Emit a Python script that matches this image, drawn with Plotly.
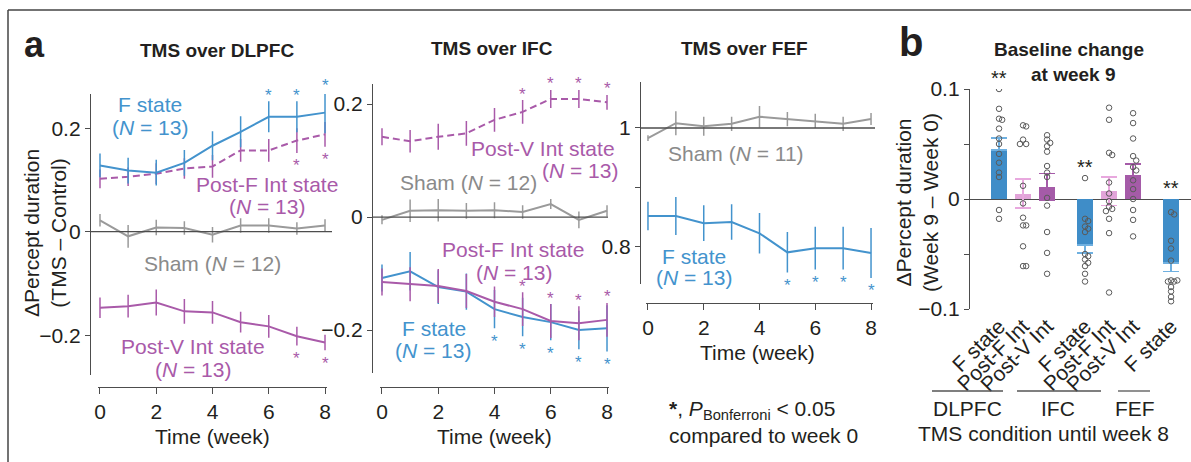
import plotly.graph_objects as go

W, H = 1191, 462
FONT = "Liberation Sans, Arial, Helvetica, sans-serif"
TEXT = "#231f20"
AXC = "#4d4d4d"
BLUE = "#4393cd"
PURPLE = "#a95aa9"
PINK = "#e2a4d9"
GRAY = "#9a9a9a"
GRAYT = "#8a8a8a"

weeks = list(range(9))

# ---------------- Panel a: TMS over DLPFC ----------------
dl_f = [0.128, 0.118, 0.114, 0.133, 0.166, 0.193, 0.222, 0.222, 0.230]
dl_f_sem = [0.023, 0.025, 0.025, 0.025, 0.028, 0.030, 0.030, 0.030, 0.040]
dl_pf = [0.102, 0.106, 0.112, 0.122, 0.126, 0.157, 0.157, 0.176, 0.188]
dl_pf_sem = [0.018, 0.018, 0.020, 0.020, 0.022, 0.022, 0.022, 0.024, 0.024]
dl_sham = [0.022, -0.009, 0.008, 0.007, -0.006, 0.012, 0.012, 0.006, 0.012]
dl_sham_sem = [0.012, 0.022, 0.015, 0.013, 0.015, 0.014, 0.014, 0.012, 0.012]
dl_pv = [-0.147, -0.144, -0.137, -0.154, -0.156, -0.175, -0.183, -0.202, -0.214]
dl_pv_sem = [0.020, 0.022, 0.025, 0.024, 0.022, 0.020, 0.022, 0.018, 0.015]

# ---------------- Panel a: TMS over IFC ----------------
ifc_pv = [0.142, 0.134, 0.142, 0.148, 0.172, 0.186, 0.209, 0.209, 0.203]
ifc_pv_sem = [0.015, 0.020, 0.023, 0.022, 0.021, 0.021, 0.016, 0.016, 0.013]
ifc_sham = [-0.005, 0.011, 0.012, 0.011, 0.012, 0.009, 0.023, -0.005, 0.011]
ifc_sham_sem = [0.008, 0.020, 0.020, 0.014, 0.014, 0.012, 0.009, 0.015, 0.010]
ifc_pf = [-0.115, -0.119, -0.122, -0.131, -0.150, -0.163, -0.184, -0.188, -0.182]
ifc_pf_sem = [0.024, 0.030, 0.030, 0.030, 0.027, 0.030, 0.030, 0.030, 0.030]
ifc_f = [-0.108, -0.096, -0.124, -0.132, -0.163, -0.177, -0.186, -0.200, -0.197]
ifc_f_sem = [0.024, 0.034, 0.030, 0.032, 0.034, 0.034, 0.032, 0.034, 0.041]

# ---------------- Panel a: TMS over FEF ----------------
fef_sham = [0.983, 1.008, 1.003, 1.007, 1.019, 1.015, 1.012, 1.007, 1.015]
fef_sham_sem = [0.005, 0.020, 0.016, 0.012, 0.018, 0.012, 0.012, 0.012, 0.010]
fef_f = [0.852, 0.852, 0.840, 0.842, 0.823, 0.791, 0.798, 0.798, 0.790]
fef_f_sem = [0.024, 0.032, 0.030, 0.030, 0.034, 0.034, 0.036, 0.036, 0.042]

# significant weeks (P_Bonferroni < 0.05 vs week 0)
sig_dl_f = [6, 7, 8]
sig_dl_pf = [7, 8]
sig_dl_pv = [7, 8]
sig_ifc_pv = [5, 6, 7, 8]
sig_ifc_pf = [5, 6, 7, 8]
sig_ifc_f = [4, 5, 6, 7, 8]
sig_fef_f = [5, 6, 7, 8]

# ---------------- Panel b ----------------
b_groups = ["DLPFC", "IFC", "FEF"]
b_conditions = [["F state", "Post-F Int", "Post-V Int"],
                ["F state", "Post-F Int", "Post-V Int"],
                ["F state"]]
b_means = [0.0445, 0.005, 0.011, -0.042, 0.007, 0.022, -0.058]
b_sems = [0.011, 0.013, 0.012, 0.007, 0.013, 0.010, 0.008]
b_points = [
    [0.100, 0.082, 0.073, 0.072, 0.064, 0.055, 0.050, 0.041, 0.033, 0.024, 0.020, -0.010, -0.018],
    [0.067, 0.066, 0.054, 0.050, 0.050, 0.012, -0.004, -0.017, -0.024, -0.024, -0.043, -0.061, -0.061],
    [0.058, 0.054, 0.051, 0.048, 0.043, 0.030, 0.024, 0.020, 0.001, -0.006, -0.030, -0.049, -0.068],
    [0.019, -0.018, -0.020, -0.025, -0.027, -0.030, -0.050, -0.052, -0.055, -0.058, -0.061, -0.068, -0.075],
    [0.083, 0.072, 0.042, 0.040, 0.015, 0.005, -0.002, -0.007, -0.009, -0.011, -0.018, -0.031, -0.085],
    [0.078, 0.069, 0.055, 0.039, 0.035, 0.029, 0.026, 0.017, 0.009, 0.000, -0.010, -0.019, -0.034],
    [-0.012, -0.014, -0.038, -0.045, -0.056, -0.074, -0.075, -0.075, -0.074, -0.080, -0.084, -0.089, -0.093],
]
b_sig = ["**", "", "", "**", "", "", "**"]

# ---------------- helpers ----------------
def fx(x):
    return x / W

def fy(y):
    return 1 - y / H

# panel geometry (pixels) and ranges
P = {
    "1": dict(xd=(98.3, 326.7), xr=(-0.06, 8.06), xpos=387, yd=(94, 375), yr=(-0.277, 0.266), ypos=90),
    "2": dict(xd=(380.3, 608.7), xr=(-0.06, 8.06), xpos=387, yd=(84, 373), yr=(-0.276, 0.2354), ypos=372),
    "3": dict(xd=(646.3, 872.7), xr=(-0.06, 8.06), xpos=303, yd=(82, 284), yr=(0.7378, 1.0773), ypos=640),
    "4": dict(xd=(970, 1191), xr=(-1.208, 7.99), yd=(89, 309), yr=(-0.1, 0.1)),
}

def vy(panel, v):
    g = P[panel]
    t, b = g["yd"]
    lo, hi = g["yr"]
    return fy(b - (v - lo) / (hi - lo) * (b - t))

fig = go.Figure()
annotations = []
shapes = []

def txt(x, y, s, size=21, color=TEXT, xanchor="center", yanchor="middle", angle=0):
    annotations.append(dict(x=fx(x), y=fy(y), xref="paper", yref="paper", text=s,
                            showarrow=False, font=dict(size=size, color=color, family=FONT),
                            xanchor=xanchor, yanchor=yanchor, textangle=angle))

AX = {"1": ("x", "y"), "2": ("x2", "y2"), "3": ("x3", "y3"), "4": ("x4", "y4")}

def series(panel, vals, sems, color, dash="solid", sig=None, above=True):
    xa, ya = AX[panel]
    fig.add_trace(go.Scatter(
        x=weeks, y=vals, xaxis=xa, yaxis=ya, mode="lines",
        line=dict(color=color, width=2, dash=dash),
        error_y=dict(type="data", array=sems, color=color, thickness=1.5, width=0),
        hoverinfo="skip", showlegend=False))
    for w in (sig or []):
        yv = vals[w] + sems[w] if above else vals[w] - sems[w]
        annotations.append(dict(x=w, y=vy(panel, yv), xref=xa, yref="paper", text="*",
                                showarrow=False, font=dict(size=17, color=color, family=FONT),
                                xanchor="center", yanchor="middle",
                                yshift=6 if above else -13))

# DLPFC
series("1", dl_sham, dl_sham_sem, GRAY)
series("1", dl_pv, dl_pv_sem, PURPLE, sig=sig_dl_pv, above=False)
series("1", dl_pf, dl_pf_sem, PURPLE, dash="7px,4px", sig=sig_dl_pf, above=False)
series("1", dl_f, dl_f_sem, BLUE, sig=sig_dl_f, above=True)
# IFC
series("2", ifc_sham, ifc_sham_sem, GRAY)
series("2", ifc_pv, ifc_pv_sem, PURPLE, dash="7px,4px", sig=sig_ifc_pv, above=True)
series("2", ifc_f, ifc_f_sem, BLUE, sig=sig_ifc_f, above=False)
series("2", ifc_pf, ifc_pf_sem, PURPLE, sig=sig_ifc_pf, above=True)
# FEF
series("3", fef_sham, fef_sham_sem, GRAY)
series("3", fef_f, fef_f_sem, BLUE, sig=sig_fef_f, above=False)

# ---------------- Panel b traces ----------------
GAP = 0.58
b_x, b_lab = [], []
pos = 0.0
for conds in b_conditions:
    for c in conds:
        b_x.append(pos)
        b_lab.append(c)
        pos += 1
    pos += GAP

colmap = {"F state": "#3f8dc8", "Post-F Int": PINK, "Post-V Int": "#a55ba8"}
errmap = {"F state": "#6fb0e0", "Post-F Int": "#e8a8de", "Post-V Int": "#a55ba8"}

for kind in ["F state", "Post-F Int", "Post-V Int"]:
    idx = [i for i, k in enumerate(b_lab) if k == kind]
    xs = [b_x[i] for i in idx]
    ms = [b_means[i] for i in idx]
    ss = [b_sems[i] for i in idx]
    if kind == "F state":
        up = [s if m >= 0 else 0 for m, s in zip(ms, ss)]
        dn = [s if m < 0 else 0 for m, s in zip(ms, ss)]
        err = dict(type="data", symmetric=False, array=up, arrayminus=dn,
                   color=errmap[kind], thickness=1.5, width=8)
    else:
        err = dict(type="data", array=ss, color=errmap[kind], thickness=1.5, width=8)
    fig.add_trace(go.Bar(x=xs, y=ms, xaxis="x4", yaxis="y4", width=0.66,
                         marker=dict(color=colmap[kind], line=dict(width=0)),
                         error_y=err, hoverinfo="skip", showlegend=False))

def jitter(vals, thr=0.004, step=0.13):
    offs = []
    for i, v in enumerate(vals):
        near = [offs[j] for j in range(i) if abs(vals[j] - v) < thr]
        o = 0.0
        for c in [0.0, step, -step, 2 * step, -2 * step]:
            if all(abs(c - n) > 1e-9 for n in near):
                o = c
                break
        offs.append(o)
    return offs

dx, dy = [], []
for xc, pts in zip(b_x, b_points):
    for o, v in zip(jitter(pts), pts):
        dx.append(xc + o)
        dy.append(v)
fig.add_trace(go.Scatter(x=dx, y=dy, xaxis="x4", yaxis="y4", mode="markers",
                         marker=dict(symbol="circle-open", size=5.5, color="#5a5a5a",
                                     line=dict(width=1, color="#5a5a5a")),
                         hoverinfo="skip", showlegend=False))

for xc, pts, s in zip(b_x, b_points, b_sig):
    if s:
        annotations.append(dict(x=xc, y=vy("4", max(max(pts), 0) + 0.01), xref="x4", yref="paper",
                                text=s, showarrow=False,
                                font=dict(size=20, color=TEXT, family=FONT),
                                xanchor="center", yanchor="middle"))

# ---------------- axes ----------------
def xax(panel):
    g = P[panel]
    return dict(domain=[fx(g["xd"][0]), fx(g["xd"][1])], range=list(g["xr"]), anchor="free",
                position=fy(g["xpos"]), showline=True, linecolor=AXC, linewidth=1.3,
                ticks="outside", ticklen=6, tickwidth=1.3, tickcolor=AXC,
                tickvals=[0, 2, 4, 6, 8], showgrid=False, zeroline=False, automargin=False,
                tickfont=dict(size=21, color=TEXT, family=FONT))

def yax(panel, tv, tt):
    g = P[panel]
    t, b = g["yd"]
    return dict(domain=[fy(b), fy(t)], range=list(g["yr"]), anchor="free", position=fx(g["ypos"]),
                showline=True, linecolor=AXC, linewidth=1.3, ticks="outside",
                ticklen=5, tickwidth=1.3, tickcolor=AXC, tickvals=tv, ticktext=tt,
                showgrid=False, zeroline=False, automargin=False,
                tickfont=dict(size=21, color=TEXT, family=FONT))

g4 = P["4"]
layout = dict(
    template="none",
    width=W, height=H, margin=dict(l=0, r=0, t=0, b=0, pad=0, autoexpand=False),
    paper_bgcolor="white", plot_bgcolor="rgba(0,0,0,0)",
    font=dict(family=FONT, size=21, color=TEXT),
    showlegend=False,
    xaxis=xax("1"),
    yaxis=yax("1", [-0.2, 0, 0.2], ["\u22120.2", "0", "0.2"]),
    xaxis2=xax("2"),
    yaxis2=yax("2", [-0.2, 0, 0.2], ["\u22120.2", "0", "0.2"]),
    xaxis3=xax("3"),
    yaxis3=yax("3", [0.8, 0.9, 1.0], ["0.8", "", "1"]),
    xaxis4=dict(domain=[fx(g4["xd"][0]), 1.0], range=list(g4["xr"]), anchor="y4",
                showline=False, ticks="", tickvals=b_x, ticktext=b_lab, tickangle=-45,
                showgrid=False, zeroline=False, automargin=False,
                tickfont=dict(size=21, color=TEXT, family=FONT)),
    yaxis4=dict(domain=[fy(g4["yd"][1]), fy(g4["yd"][0])], range=list(g4["yr"]), anchor="x4",
                showline=True, linecolor=AXC, linewidth=1.3, ticks="outside", ticklen=5,
                tickwidth=1.3, tickcolor=AXC, tickvals=[-0.1, -0.05, 0, 0.05, 0.1],
                ticktext=["\u22120.1", "", "0", "", "0.1"], showgrid=False, automargin=False,
                zeroline=True, zerolinecolor=AXC, zerolinewidth=1.3,
                tickfont=dict(size=21, color=TEXT, family=FONT)),
    bargap=0,
)

# reference lines in panel a
shapes.append(dict(type="line", xref="paper", yref="y", x0=fx(90), x1=fx(332), y0=0, y1=0,
                   line=dict(color=AXC, width=1.3)))
shapes.append(dict(type="line", xref="paper", yref="y2", x0=fx(372), x1=fx(608), y0=0, y1=0,
                   line=dict(color=AXC, width=1.3)))
shapes.append(dict(type="line", xref="paper", yref="y3", x0=fx(640), x1=fx(875), y0=1, y1=1,
                   line=dict(color=AXC, width=1.3)))
# frame
shapes.append(dict(type="line", xref="paper", yref="paper", x0=fx(8), x1=1, y0=fy(10), y1=fy(10),
                   line=dict(color="#444", width=1.5)))
shapes.append(dict(type="line", xref="paper", yref="paper", x0=fx(8), x1=fx(8), y0=fy(10), y1=0,
                   line=dict(color="#444", width=1.5)))
# group lines in panel b
for x0, x1 in [(932, 1003), (1017, 1101), (1118, 1150)]:
    shapes.append(dict(type="line", xref="paper", yref="paper", x0=fx(x0), x1=fx(x1),
                       y0=fy(391), y1=fy(391), line=dict(color="#555", width=1.3)))

# ---------------- text ----------------
txt(34, 44, "<b>a</b>", size=36)
txt(911, 42, "<b>b</b>", size=40)
txt(217, 50, "<b>TMS over DLPFC</b>", size=19)
txt(492, 48, "<b>TMS over IFC</b>", size=19)
txt(744, 48, "<b>TMS over FEF</b>", size=19)
txt(1069, 49, "<b>Baseline change</b>", size=19)
txt(1073, 74, "<b>at week 9</b>", size=19)

NL = "(<i>N</i> = 13)"
txt(150, 104, "F state", color=BLUE)
txt(150, 127, NL, color=BLUE)
txt(267, 184, "Post-F Int state", color=PURPLE)
txt(267, 206, NL, color=PURPLE)
txt(212, 263, "Sham (<i>N</i> = 12)", color=GRAYT)
txt(193, 346, "Post-V Int state", color=PURPLE)
txt(193, 369, NL, color=PURPLE)

txt(543, 148, "Post-V Int state", color=PURPLE)
txt(580, 171, NL, color=PURPLE)
txt(468, 183, "Sham (<i>N</i> = 12)", color=GRAYT)
txt(513, 249, "Post-F Int state", color=PURPLE)
txt(514, 272, NL, color=PURPLE)
txt(434, 328, "F state", color=BLUE)
txt(433, 350, NL, color=BLUE)

txt(736, 154, "Sham (<i>N</i> = 11)", color=GRAYT)
txt(694, 256, "F state", color=BLUE)
txt(694, 277, NL, color=BLUE)

txt(212, 436, "Time (week)")
txt(494, 436, "Time (week)")
txt(757, 352, "Time (week)")

txt(667, 410, "<b>*</b>, <i>P</i><sub>Bonferroni</sub> &lt; 0.05", xanchor="left")
txt(667, 435, "compared to week 0", xanchor="left")

txt(45, 233, "\u0394Percept duration<br>(TMS \u2013 Control)", angle=-90)
txt(917, 203, "\u0394Percept duration<br>(Week 9 \u2013 Week 0)", angle=-90)

txt(967, 408, "DLPFC")
txt(1058, 408, "IFC")
txt(1135, 408, "FEF")
txt(1043, 433, "TMS condition until week 8")

layout["annotations"] = annotations
layout["shapes"] = shapes
fig.update_layout(**layout)
fig.write_html("out.html")
